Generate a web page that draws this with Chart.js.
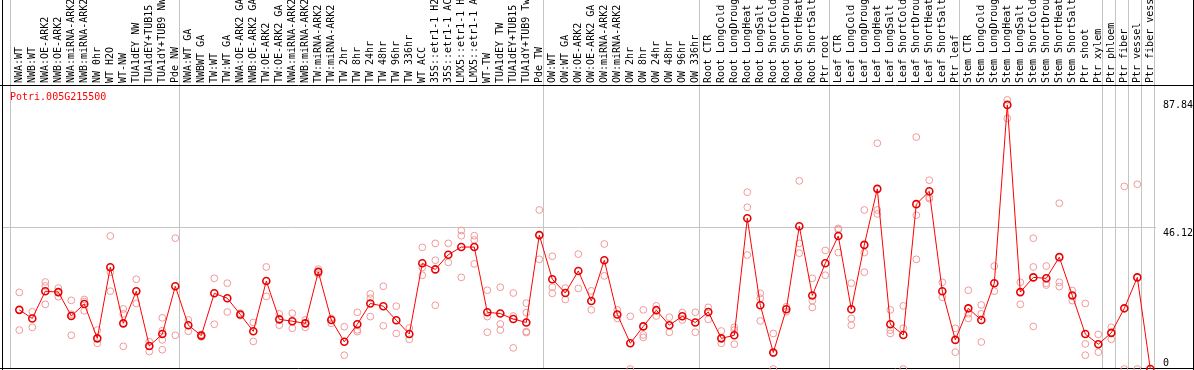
<!DOCTYPE html>
<html><head><meta charset="utf-8">
<script src="https://cdn.jsdelivr.net/npm/chart.js@4.4.1/dist/chart.umd.min.js"></script>
<style>html,body{margin:0;padding:0;background:#fff;overflow:hidden}</style>
</head><body>
<canvas id="c" width="1194" height="370"></canvas>
<script>
const geneId = 'Potri.005G215500';

const categories = [
  'NWA:WT','NWB:WT','NWA:OE-ARK2','NWB:OE-ARK2','NWA:miRNA-ARK2','NWB:miRNA-ARK2','NW 0hr','WT H2O','WT-NW','TUA1dEY NW','TUA1dEY+TUB15 NW','TUA1dY+TUB9 NW','Pde NW',
  'NWA:WT GA','NWBWT GA','TW:WT','TW:WT GA','NWA:OE-ARK2 GA','NWB:OE-ARK2 GA','TW:OE-ARK2','TW:OE-ARK2 GA','NWA:miRNA-ARK2 GA','NWB:miRNA-ARK2 GA','TW:miRNA-ARK2','TW:miRNA-ARK2 GA','TW 2hr','TW 8hr','TW 24hr','TW 48hr','TW 96hr','TW 336hr','WT ACC','35S::etr1-1 H2O','35S::etr1-1 ACC','LMX5::etr1-1 H2O','LMX5::etr1-1 ACC','WT-TW','TUA1dEY TW','TUA1dEY+TUB15 TW','TUA1dY+TUB9 Tw','Pde TW',
  'OW:WT','OW:WT GA','OW:OE-ARK2','OW:OE-ARK2 GA','OW:miRNA-ARK2','OW:miRNA-ARK2 GA','OW 2hr','OW 8hr','OW 24hr','OW 48hr','OW 96hr','OW 336hr',
  'Root CTR','Root LongCold','Root LongDrought','Root LongHeat','Root LongSalt','Root ShortCold','Root ShortDrought','Root ShortHeat','Root ShortSalt','Ptr root',
  'Leaf CTR','Leaf LongCold','Leaf LongDrought','Leaf LongHeat','Leaf LongSalt','Leaf ShortCold','Leaf ShortDrought','Leaf ShortHeat','Leaf ShortSalt','Ptr leaf',
  'Stem CTR','Stem LongCold','Stem LongDrought','Stem LongHeat','Stem LongSalt','Stem ShortCold','Stem ShortDrought','Stem ShortHeat','Stem ShortSalt','Ptr shoot','Ptr xylem',
  'Ptr phloem','Ptr fiber','Ptr vessel','Ptr fiber vessel'
];

// first category index of each sample group (separator lines)
const groupStarts = [0, 13, 41, 53, 63, 73, 84, 85, 86, 87, 88];

const meanValues = [
  19.3,16.5,25.4,25.1,17.3,21.2,10.0,33.2,14.9,25.4,7.5,11.4,27.0,
  14.3,10.9,24.7,23.1,17.8,12.3,28.7,16.2,15.6,14.9,31.7,16.0,8.9,14.6,21.4,20.5,15.9,11.4,34.5,32.5,37.3,39.8,39.8,18.5,18.1,16.3,15.2,43.7,
  29.3,24.8,32.0,22.2,35.5,17.8,8.4,13.9,19.2,14.3,17.2,15.2,
  18.6,10.0,11.0,49.2,20.8,5.4,19.5,46.6,24.0,34.5,
  43.4,19.5,40.5,58.8,14.6,11.1,53.8,58.0,25.4,9.5,
  19.8,16.0,28.0,86.2,25.1,29.9,29.6,36.5,24.0,11.4,8.1,
  11.8,19.8,29.9,0
];

const rep1 = [
  25.0,18.7,28.4,26.4,22.4,22.7,12.7,43.4,19.6,29.3,8.9,16.7,42.7,
  16.0,11.3,29.6,28.0,18.2,15.2,33.3,18.0,18.2,16.0,32.6,16.5,13.8,18.5,24.5,27.0,20.5,13.4,39.7,41.0,41.0,45.2,43.5,25.7,26.7,24.8,21.5,51.9,
  36.8,26.4,37.5,25.5,40.8,19.3,17.2,19.3,20.6,16.9,18.4,18.5,
  20.1,12.4,13.6,57.7,24.7,11.6,20.3,61.4,29.6,38.7,
  45.9,28.0,51.9,73.7,19.3,20.6,75.7,61.6,28.3,13.3,
  25.7,20.9,33.6,87.84,28.3,42.7,33.6,54.1,25.6,21.4,11.3,
  13.6,59.6,60.3,null
];
const rep2 = [
  12.7,13.6,27.1,23.6,11.0,22.0,8.4,31.6,18.0,21.4,5.7,12.5,11.0,
  12.3,10.5,14.6,18.6,17.4,9.0,23.7,14.3,13.3,13.6,31.0,14.9,4.5,12.2,23.1,14.1,11.6,9.7,33.1,35.5,34.8,43.5,42.1,17.1,14.7,17.3,18.4,35.8,
  26.7,22.7,26.3,19.3,30.4,16.5,0,11.1,17.3,12.0,16.0,12.0,
  16.2,8.4,12.7,52.8,23.1,0,18.7,41.0,22.3,30.6,
  38.0,16.5,38.0,51.9,12.7,13.3,50.2,56.0,23.4,5.5,
  16.5,18.0,25.4,81.8,21.1,33.3,27.4,28.3,22.3,8.2,5.5,
  9.7,0,0,null
];
const rep3 = [
  null,null,21.1,null,17.9,19.0,null,25.4,7.4,null,null,9.5,null,
  null,null,null,null,null,null,null,null,null,null,null,null,null,12.8,17.1,null,null,null,30.6,20.8,null,29.9,34.3,12.0,12.7,6.9,12.2,null,
  24.7,null,null,null,null,null,null,10.3,null,null,null,null,
  null,null,8.1,37.2,15.7,5.1,null,37.8,20.1,null,
  45.5,14.3,31.6,50.6,11.6,0,35.8,55.6,null,null,
  18.0,8.8,null,null,null,13.9,28.0,26.9,null,4.5,null,
  null,null,null,null
];
const rep4 = [
  null,null,null,null,null,null,null,null,null,null,null,6.3,null,
  null,null,null,null,null,null,null,null,null,null,null,null,null,null,null,null,null,null,null,null,null,null,null,null,null,null,11.9,null,
  null,null,null,null,null,null,null,null,null,null,null,null,
  null,null,null,null,null,null,null,null,null,null,
  null,null,null,null,null,null,null,null,null,null,
  null,null,null,null,null,null,null,null,null,null,null,
  null,null,null,null
];

const yTickValues = [0, 46.12, 87.84];

const FONT = '"DejaVu Sans Mono", "Liberation Mono", monospace';
const GRID = '#c4c4c4';

const toPts = arr => arr.map((v, i) => v === null ? null : {x: i, y: v}).filter(p => p);
const repPoints = [].concat(toPts(rep1), toPts(rep2), toPts(rep3), toPts(rep4));

const noPad = s => { s.paddingLeft = 0; s.paddingRight = 0; s.paddingTop = 0; s.paddingBottom = 0; };

const framePlugin = {
  id: 'frame',
  beforeDatasetsDraw(chart) {
    const ctx = chart.ctx, W = chart.width, H = chart.height, a = chart.chartArea;
    ctx.save();
    ctx.strokeStyle = '#000';
    ctx.lineWidth = 1;
    ctx.beginPath();
    ctx.moveTo(0, a.top + 0.5); ctx.lineTo(W, a.top + 0.5);
    ctx.moveTo(0, a.bottom - 0.5); ctx.lineTo(W, a.bottom - 0.5);
    ctx.moveTo(a.left - 0.5, 0); ctx.lineTo(a.left - 0.5, H);
    ctx.moveTo(W - 0.5, 0); ctx.lineTo(W - 0.5, H);
    ctx.stroke();
    ctx.fillStyle = '#ff0000';
    ctx.font = '10px ' + FONT;
    ctx.textBaseline = 'middle';
    ctx.textAlign = 'left';
    ctx.fillText(geneId, a.left + 7, a.top + 12);
    ctx.restore();
  }
};

new Chart(document.getElementById('c'), {
  type: 'line',
  data: {
    datasets: [
      {
        label: 'mean',
        data: meanValues.map((v, i) => ({x: i, y: v})),
        borderColor: '#ff0000',
        borderWidth: 1,
        pointRadius: 3.5,
        pointBorderWidth: 1.6,
        pointBorderColor: '#e80000',
        pointBackgroundColor: 'rgba(0,0,0,0)',
        tension: 0,
        clip: false,
        order: 0
      },
      {
        label: 'replicates',
        data: repPoints,
        showLine: false,
        pointRadius: 3.4,
        pointBorderWidth: 1,
        pointBorderColor: '#f09898',
        pointBackgroundColor: 'rgba(0,0,0,0)',
        clip: false,
        order: 1
      }
    ]
  },
  plugins: [framePlugin],
  options: {
    responsive: false,
    animation: false,
    devicePixelRatio: 1,
    events: [],
    layout: {padding: {left: 3, right: 1, top: 0, bottom: 1}, autoPadding: false},
    plugins: {legend: {display: false}, tooltip: {enabled: false}, title: {display: false}},
    scales: {
      x: {
        type: 'linear',
        position: 'top',
        min: -1.2538,
        max: 87.438,
        afterBuildTicks: s => {
          const t = categories.map((c, i) => ({value: i}))
            .concat(groupStarts.map(b => ({value: b - 0.65})));
          t.sort((p, q) => p.value - q.value);
          s.ticks = t;
        },
        afterFit: s => { s.height = 85; noPad(s); },
        border: {display: false},
        grid: {
          drawTicks: true,
          tickLength: 85,
          lineWidth: 1,
          color: c => (c.tick && !Number.isInteger(c.tick.value)) ? GRID : 'rgba(0,0,0,0)'
        },
        ticks: {
          autoSkip: false,
          minRotation: 90,
          maxRotation: 90,
          padding: -83,
          labelOffset: 12,
          color: '#000',
          font: {family: FONT, size: 10, lineHeight: 1.2},
          callback: v => Number.isInteger(v) ? categories[v] : ''
        }
      },
      y: {
        type: 'linear',
        position: 'right',
        min: 0,
        max: 92.69,
        afterBuildTicks: s => { s.ticks = yTickValues.map(v => ({value: v})); },
        afterFit: s => { s.width = 37; noPad(s); },
        border: {display: false},
        grid: {
          drawTicks: false,
          lineWidth: 1,
          color: c => (c.tick && c.tick.value === 46.12) ? GRID : 'rgba(0,0,0,0)'
        },
        ticks: {
          padding: 7,
          color: '#000',
          font: {family: FONT, size: 10, lineHeight: 1.2},
          callback: v => v === 0 ? ['0', ''] : ['', String(v)]
        }
      }
    }
  }
});
</script>
</body></html>
